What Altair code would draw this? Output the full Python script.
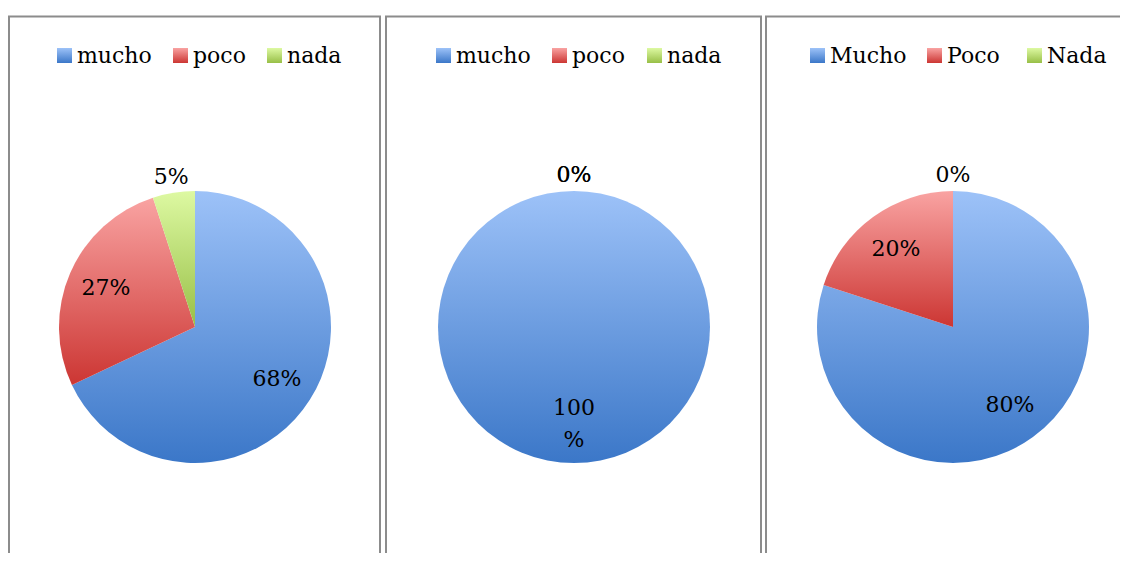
import altair as alt
import pandas as pd

# ---- data ----
cats_1 = ["mucho", "poco", "nada"]
vals_1 = [68, 27, 5]
cats_2 = ["mucho", "poco", "nada"]
vals_2 = [100, 0, 0]
cats_3 = ["Mucho", "Poco", "Nada"]
vals_3 = [80, 20, 0]

FONT = "DejaVu Serif"
FS = 22
R = 136
W, H = 1112, 545
BORDER = "#8c8c8c"


def grad(top, bottom):
    return alt.LinearGradient(
        gradient="linear", x1=0, y1=0, x2=0, y2=1,
        stops=[alt.GradientStop(color=top, offset=0),
               alt.GradientStop(color=bottom, offset=1)],
    )


GRADS = [
    grad("#9dc2f8", "#3b77c8"),
    grad("#f9a3a2", "#cc3633"),
    grad("#ddf9a2", "#98bf47"),
]

theta_scale = alt.Scale(domain=[0, 100], range=[0, 6.283185307179586])


def panel(cats, vals, cx, cy, legend_x, legend_y):
    df = pd.DataFrame({"cat": cats, "val": vals, "idx": list(range(len(cats)))})
    base = (
        alt.Chart(df)
        .transform_window(cum="sum(val)", sort=[alt.SortField("idx")], frame=[None, 0])
        .transform_calculate(
            start="datum.cum - datum.val",
            mid="datum.cum - datum.val / 2",
            label="datum.val == 100 ? ['100', '%'] : datum.val + '%'",
            r="datum.val < 10 ? 152 : (datum.val == 100 ? 81 : 97)",
        )
    )
    layers = []
    for i in range(len(cats)):
        layers.append(
            base.transform_filter(alt.datum.idx == i)
            .mark_arc(outerRadius=R, fill=GRADS[i], strokeWidth=0)
            .encode(
                theta=alt.Theta("start:Q", scale=theta_scale, stack=False),
                theta2="cum:Q",
                x=alt.value(cx), y=alt.value(cy),
            )
        )
    layers.append(
        base.mark_text(font=FONT, fontSize=FS, color="#000000", lineHeight=32,
                       align="center", baseline="middle")
        .encode(
            theta=alt.Theta("mid:Q", scale=theta_scale, stack=False),
            radius=alt.Radius("r:Q", scale=None),
            text="label:N",
            x=alt.value(cx), y=alt.value(cy),
        )
    )
    # legend
    for i, lx in enumerate(legend_x):
        one = alt.Chart(df).transform_filter(alt.datum.idx == i)
        layers.append(
            one.mark_rect(fill=GRADS[i]).encode(
                x=alt.value(lx), x2=alt.value(lx + 15),
                y=alt.value(legend_y - 15), y2=alt.value(legend_y),
            )
        )
        layers.append(
            one.mark_text(font=FONT, fontSize=FS, color="#000000",
                          align="left", baseline="alphabetic").encode(
                x=alt.value(lx + 20), y=alt.value(legend_y), text="cat:N"
            )
        )
    return layers


frame = pd.DataFrame({"k": [0]})


def vline(x):
    return alt.Chart(frame).mark_rule(color=BORDER, strokeWidth=2).encode(
        x=alt.value(x), y=alt.value(8.5), y2=alt.value(H)
    )


def hline(x1, x2):
    return alt.Chart(frame).mark_rule(color=BORDER, strokeWidth=2).encode(
        x=alt.value(x1), x2=alt.value(x2), y=alt.value(8.5)
    )


borders = [
    vline(1), vline(372), hline(0, 373),
    vline(378), vline(753), hline(377, 754),
    vline(758), hline(757, W),
]

layers = (
    borders
    + panel(cats_1, vals_1, 187, 319, [49, 165, 259], 55)
    + panel(cats_2, vals_2, 566, 319, [428, 544, 639], 55)
    + panel(cats_3, vals_3, 945, 319, [802, 919, 1019], 55)
)

chart = (
    alt.layer(*layers)
    .properties(width=W, height=H, padding=0, autosize=alt.AutoSizeParams(type="none"))
    .configure_view(stroke=None)
)

chart.save("out.html", embed_options={"renderer": "svg", "actions": False})
